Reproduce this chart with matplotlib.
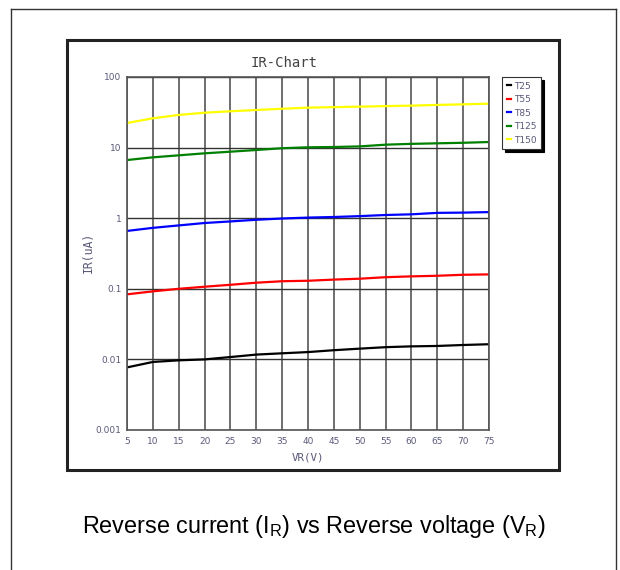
import matplotlib.pyplot as plt
from matplotlib.patches import Rectangle
from matplotlib.lines import Line2D

plt.rcParams['mathtext.fontset'] = 'custom'
plt.rcParams['mathtext.rm'] = 'Liberation Sans'

vr = [5, 10, 15, 20, 25, 30, 35, 40, 45, 50, 55, 60, 65, 70, 75]
t25 = [0.0077, 0.0092, 0.0097, 0.0100, 0.0108, 0.0117, 0.0122, 0.0127, 0.0135, 0.0142, 0.0149, 0.0153, 0.0155, 0.0160, 0.0164]
t55 = [0.0835, 0.092, 0.100, 0.107, 0.114, 0.122, 0.128, 0.130, 0.135, 0.139, 0.146, 0.150, 0.153, 0.158, 0.160]
t85 = [0.66, 0.73, 0.79, 0.855, 0.90, 0.95, 0.99, 1.02, 1.04, 1.07, 1.11, 1.135, 1.19, 1.20, 1.22]
t125 = [6.67, 7.28, 7.77, 8.3, 8.75, 9.25, 9.8, 10.1, 10.2, 10.4, 11.0, 11.3, 11.5, 11.7, 12.0]
t150 = [22.3, 26.0, 29.0, 31.2, 32.7, 34.1, 35.5, 36.8, 37.4, 38.0, 38.7, 39.3, 40.2, 41.0, 41.9]
series = [("T25", t25, "black"), ("T55", t55, "red"), ("T85", t85, "blue"),
          ("T125", t125, "green"), ("T150", t150, "yellow")]
yticks = [0.001, 0.01, 0.1, 1, 10, 100]
ylabels = ["0.001", "0.01", "0.1", "1", "10", "100"]

W, H = 620, 570
fig = plt.figure(figsize=(6.2, 5.7), dpi=100)

def fx(px):
    return px / W

def fy(py):
    return 1 - py / H

# outer frame (open at the bottom)
for xs, ys in [([11, 11], [9, 575]), ([11, 616], [9, 9]), ([616, 616], [9, 575])]:
    fig.add_artist(Line2D([fx(x) for x in xs], [fy(y) for y in ys], color="#333333", lw=1))

# inner chart box
fig.add_artist(Rectangle((fx(67), fy(470)), fx(559) - fx(67), fy(40) - fy(470),
                         fill=False, edgecolor="#222222", lw=2.2))

ax = fig.add_axes([fx(127), fy(430), fx(489) - fx(127), fy(77) - fy(430)])
for name, vals, col in series:
    ax.plot(vr, vals, color=col, lw=1.6, label=name)

ax.set_yscale("log")
ax.set_xlim(5, 75)
ax.set_ylim(0.001, 100)
ax.set_xticks(vr)
ax.set_yticks(yticks)
ax.set_yticklabels(ylabels)
ax.minorticks_off()
ax.tick_params(length=0, labelsize=6.5, colors="#5a5a7a", pad=4)
ax.tick_params(axis="x", pad=5)
ax.grid(True, axis="x", color="#555555", lw=1.2)
ax.grid(True, axis="y", color="#333333", lw=1.0)
for s in ax.spines.values():
    s.set_color("#555555")
    s.set_linewidth(1.2)

fig.text(fx(284), fy(63), "IR-Chart", family="DejaVu Sans Mono", fontsize=10,
         color="#444444", ha="center", va="center")
fig.text(fx(308), fy(457), "VR(V)", family="DejaVu Sans Mono", fontsize=7.8,
         color="#5a5a7a", ha="center", va="center")
fig.text(fx(88), fy(252), "IR(uA)", family="DejaVu Sans Mono", fontsize=8.3,
         color="#5a5a7a", ha="center", va="center", rotation=90)

leg = ax.legend(loc="upper left", bbox_to_anchor=(fx(502), fy(77)), bbox_transform=fig.transFigure,
                borderaxespad=0, fontsize=6.5, handlelength=0.5, handletextpad=0.3,
                labelspacing=0.5, borderpad=0.5, fancybox=False, framealpha=1,
                edgecolor="#333333", shadow={"color": "black", "alpha": 1})
leg.get_frame().set_linewidth(0.8)
for t in leg.get_texts():
    t.set_color("#5a5a7a")

fig.text(fx(314), fy(527), r"Reverse current (I$_\mathregular{R}$) vs Reverse voltage (V$_\mathregular{R}$)",
         family="Liberation Sans", fontsize=16.8, color="black", ha="center", va="center")

fig.savefig("out.png", dpi=100)
